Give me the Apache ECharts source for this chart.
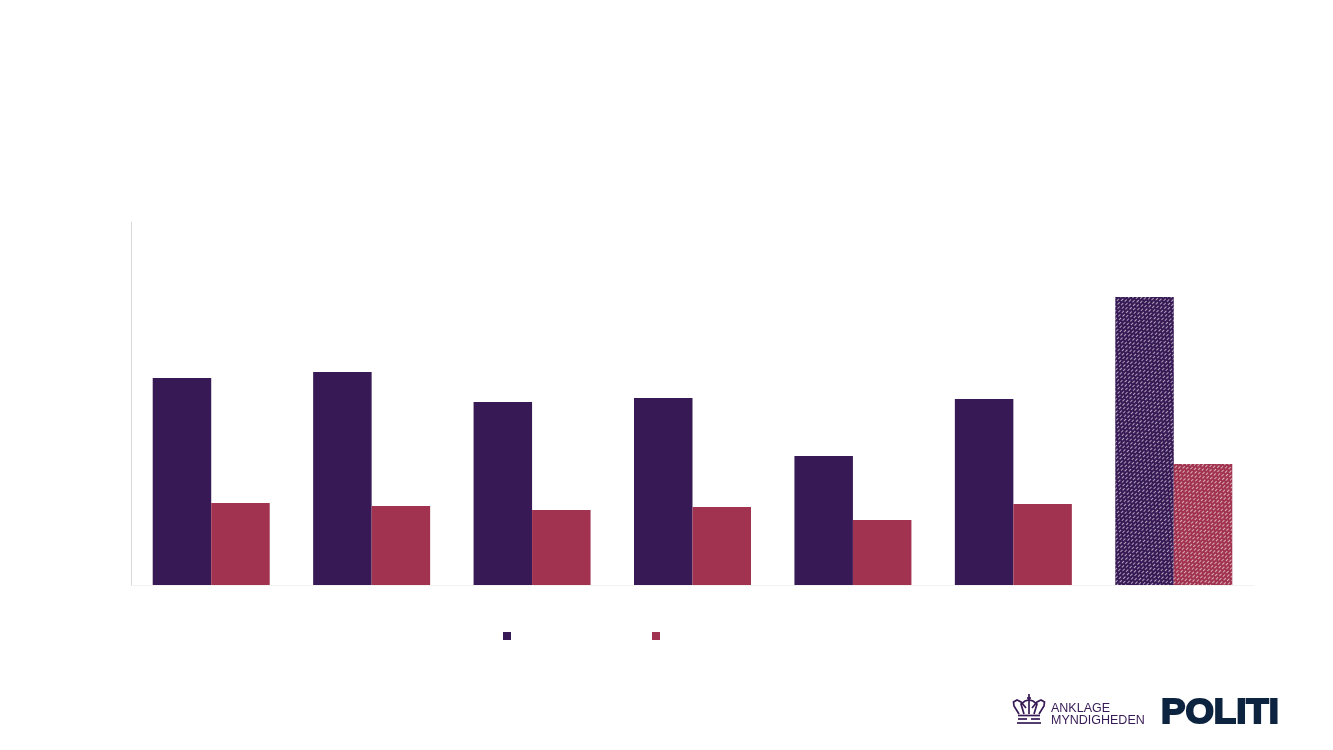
<!DOCTYPE html>
<html><head><meta charset="utf-8">
<style>html,body{margin:0;padding:0;background:#fff}#c{width:1333px;height:750px}</style>
<script src="https://cdn.jsdelivr.net/npm/echarts@6/dist/echarts.min.js"></script></head>
<body><div id="c"></div>
<script>
const categories = ['1','2','3','4','5','6','7'];
const seriesA = [207,213,183,187,129,186,288];
const seriesB = [82,79,75,78,65,81,121];
const names = ['Serie A','Serie B'];
const purple='#371a55', red='#a13350';
const decal={symbol:'rect',symbolSize:1,color:'rgba(255,255,255,0.6)',dashArrayX:[[3,2],[0,2,3,0]],dashArrayY:[1,2],rotation:-Math.PI/4,maxTileWidth:64,maxTileHeight:64};
function mk(vals,col){return vals.map((v,i)=>i===vals.length-1?{value:v,itemStyle:{color:col,decal:decal}}:{value:v});}
const crown=[
 [[1019,714],[1014,706],[1013.5,702],[1017,700],[1021,702],[1026,708]],
 [[1039,714],[1044,706],[1044.5,702],[1041,700],[1037,702],[1032,708]],
 [[1024,714],[1021,704],[1025,701],[1029,700],[1033,701],[1037,704],[1034,714]],
 [[1029,697],[1029,714]],
 [[1027,698],[1031,698]],
 [[1029,694],[1029,697]],
 [[1018,715.5],[1040,715.5]],
 [[1017,723],[1041,723]],
 [[1018,719],[1027,719]],
 [[1031,719],[1040,719]]
];
const chart=echarts.init(document.getElementById('c'));
chart.setOption({
 animation:false,backgroundColor:'#fff',
 grid:{left:131,top:222,width:1123,height:363},
 legend:{left:503,top:632,itemWidth:8,itemHeight:8,itemGap:141,icon:'rect',formatter:()=>'',data:names,padding:0},
 xAxis:{type:'category',data:categories,axisLine:{lineStyle:{color:'#f2f2f2',width:1}},axisTick:{show:false},axisLabel:{show:false}},
 yAxis:{type:'value',min:0,max:363,axisLine:{show:true,lineStyle:{color:'#d9d9d9',width:1}},axisTick:{show:false},axisLabel:{show:false},splitLine:{show:false}},
 series:[
  {name:names[0],type:'bar',data:mk(seriesA,purple),barWidth:58.5,barGap:0,itemStyle:{color:purple}},
  {name:names[1],type:'bar',data:mk(seriesB,red),barWidth:58.5,barGap:0,itemStyle:{color:red}}
 ],
 graphic:[
  ...crown.map(p=>({type:'polyline',shape:{points:p},style:{fill:null,stroke:purple,lineWidth:1.7}})),
  {type:'text',x:1051,y:702,style:{text:'ANKLAGE',fill:purple,font:'12.5px "Liberation Sans"'}},
  {type:'text',x:1051,y:714,style:{text:'MYNDIGHEDEN',fill:purple,font:'12.5px "Liberation Sans"'}},
  {type:'text',x:1161,y:696,scaleX:1.045,style:{text:'POLITI',fill:'#0d2440',stroke:'#0d2440',lineWidth:2,font:'bold 35px "Liberation Sans"'}}
 ]
});
</script></body></html>
